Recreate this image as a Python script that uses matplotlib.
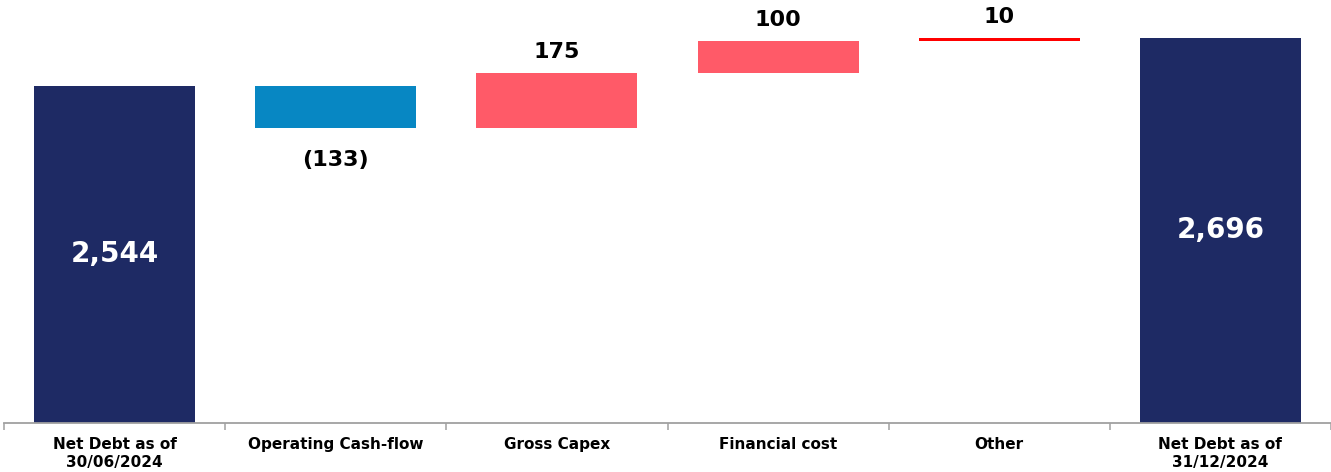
import numpy as np
import matplotlib
matplotlib.use("Agg")
import matplotlib.pyplot as plt

# waterfall data (EUR m)
categories = ["Net Debt as of\n30/06/2024", "Operating Cash-flow", "Gross Capex",
              "Financial cost", "Other", "Net Debt as of\n31/12/2024"]
changes = [-133, 175, 100, 10]
start_debt = 2544
end_debt = 2696
labels = ["2,544", "(133)", "175", "100", "10", "2,696"]

navy = "#1E2A64"
blue = "#0787C3"
pink = "#FF5A68"
red = "#FF0000"

fig = plt.figure(figsize=(13.31, 4.72), dpi=100)
ax = fig.add_axes([4 / 1331, 1 - 423 / 472, 1 - 4 / 1331, 423 / 472])

ymin, ymax = 1477, 2816
x = np.arange(len(categories))
w = 0.728

# totals
ax.bar(x[0], start_debt - ymin, bottom=ymin, width=w, color=navy)
ax.bar(x[-1], end_debt - ymin, bottom=ymin, width=w, color=navy)

# floating steps
running = start_debt
step_colors = [blue, pink, pink, red]
for i, (d, c) in enumerate(zip(changes, step_colors)):
    lo = min(running, running + d)
    ax.bar(x[i + 1], abs(d), bottom=lo, width=w, color=c)
    if d < 0:
        ax.annotate(labels[i + 1], (x[i + 1], lo), xytext=(0, -23), textcoords="offset points",
                    ha="center", va="center", fontsize=16, fontweight="bold", color="black")
    else:
        ax.annotate(labels[i + 1], (x[i + 1], lo + abs(d)), xytext=(0, 15), textcoords="offset points",
                    ha="center", va="center", fontsize=16, fontweight="bold", color="black")
    running += d

# total labels inside bars
ax.text(x[0], (start_debt + ymin) / 2, labels[0], ha="center", va="center",
        fontsize=20, fontweight="bold", color="white")
ax.text(x[-1], (end_debt + ymin) / 2, labels[-1], ha="center", va="center",
        fontsize=20, fontweight="bold", color="white")

ax.set_xlim(-0.5, 5.5)
ax.set_ylim(ymin, ymax)
ax.set_yticks([])
ax.set_xticks(x)
ax.set_xticklabels(categories, fontsize=11, fontweight="bold", linespacing=1.25)
ax.set_xticks(np.arange(-0.5, 6.0, 1.0), minor=True)
ax.tick_params(axis="x", which="major", length=0, pad=10)
ax.tick_params(axis="x", which="minor", length=5, width=1.1, color="#A0A0A0", direction="out")
for s in ["left", "top", "right"]:
    ax.spines[s].set_visible(False)
ax.spines["bottom"].set_color("#A0A0A0")
ax.spines["bottom"].set_linewidth(1.3)

fig.savefig("out.png", dpi=100)
